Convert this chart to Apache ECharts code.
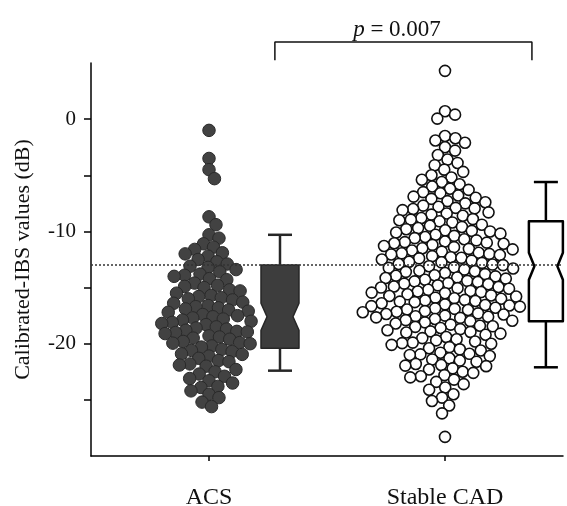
<!DOCTYPE html>
<html>
<head>
<meta charset="utf-8">
<script src="https://cdn.jsdelivr.net/npm/echarts@6/dist/echarts.min.js"></script>
<style>
  html, body { margin: 0; padding: 0; background: #fff; }
  #chart { width: 567px; height: 506px; }
</style>
</head>
<body>
<div id="chart"></div>
<script>
// groups and where they sit on the (hidden) value x axis
const categories = ['ACS', 'Stable CAD'];
const categoryX = [0.6, 1.8];
const boxX = [0.961, 2.313];

// calibrated-IBS values (dB)
const acsValues = [
  -1.0, -3.5, -4.5, -5.3, -8.7, -9.4, -10.3, -10.6,
  -11.1, -11.4, -11.6, -11.9,
  -12.0, -12.2, -12.5, -12.7, -12.9,
  -13.1, -13.2, -13.4, -13.6, -13.8, -13.9,
  -14.0, -14.2, -14.3, -14.6, -14.8, -14.9,
  -15.0, -15.2, -15.3, -15.5, -15.7, -15.8, -15.9,
  -16.0, -16.1, -16.3, -16.4, -16.6, -16.7, -16.8, -16.9,
  -17.0, -17.1, -17.2, -17.4, -17.5, -17.6, -17.7, -17.8, -17.9,
  -18.0, -18.1, -18.2, -18.3, -18.5, -18.6, -18.7, -18.8, -18.9, -18.95,
  -19.0, -19.1, -19.3, -19.4, -19.5, -19.6, -19.8, -19.9, -19.95,
  -20.0, -20.2, -20.3, -20.5, -20.6, -20.7, -20.9, -20.95,
  -21.1, -21.3, -21.5, -21.6, -21.8, -21.9,
  -22.0, -22.3, -22.5, -22.7, -22.9,
  -23.1, -23.3, -23.5, -23.8, -23.9,
  -24.2, -24.5, -24.8,
  -25.2, -25.6
];
const cadValues = [
  4.3, 0.7, 0.4, 0.05, -1.5, -1.7, -1.9, -2.1, -2.5, -2.8, -3.2, -3.6, -3.9, -4.1, -4.5, -4.7,
  -5.0, -5.2, -5.4, -5.6, -5.8,
  -6.0, -6.2, -6.3, -6.5, -6.6, -6.8, -6.9,
  -7.0, -7.1, -7.3, -7.4, -7.5, -7.7, -7.8, -7.9, -7.95,
  -8.0, -8.1, -8.3, -8.4, -8.5, -8.6, -8.8, -8.9, -8.95,
  -9.0, -9.1, -9.2, -9.4, -9.5, -9.6, -9.7, -9.8, -9.9, -9.95,
  -10.0, -10.1, -10.2, -10.3, -10.4, -10.5, -10.6, -10.7, -10.8, -10.9, -10.95,
  -11.0, -11.05, -11.1, -11.2, -11.3, -11.4, -11.5, -11.55, -11.6, -11.7, -11.8, -11.9, -11.95,
  -12.0, -12.05, -12.1, -12.2, -12.3, -12.35, -12.4, -12.5, -12.6, -12.7, -12.75, -12.8, -12.9, -12.95,
  -13.0, -13.1, -13.2, -13.25, -13.3, -13.4, -13.5, -13.55, -13.6, -13.7, -13.8, -13.9, -13.95,
  -14.0, -14.1, -14.15, -14.2, -14.3, -14.4, -14.45, -14.5, -14.6, -14.65, -14.7, -14.8, -14.9, -14.95,
  -15.0, -15.05, -15.1, -15.2, -15.3, -15.35, -15.4, -15.45, -15.5, -15.6, -15.7, -15.75, -15.8, -15.9, -15.95,
  -16.0, -16.1, -16.15, -16.2, -16.25, -16.3, -16.4, -16.5, -16.55, -16.6, -16.65, -16.7, -16.8, -16.85, -16.9, -16.95,
  -17.0, -17.1, -17.15, -17.2, -17.3, -17.35, -17.4, -17.5, -17.55, -17.6, -17.65, -17.7, -17.8, -17.9, -17.95,
  -18.0, -18.1, -18.2, -18.3, -18.4, -18.45, -18.5, -18.6, -18.7, -18.8, -18.9, -18.95,
  -19.0, -19.1, -19.2, -19.4, -19.5, -19.6, -19.7, -19.8, -19.9, -19.95,
  -20.0, -20.1, -20.3, -20.4, -20.5, -20.6, -20.8, -20.9, -20.95,
  -21.0, -21.1, -21.3, -21.4, -21.5, -21.6, -21.8, -21.9, -21.95,
  -22.0, -22.2, -22.3, -22.5, -22.6, -22.8, -22.9,
  -23.0, -23.2, -23.4, -23.6, -23.9,
  -24.1, -24.5, -24.8,
  -25.1, -25.5, -26.2,
  -28.3
];

// notched box plots: whisker ends, quartiles, median, notch half-height
const boxMin = [-22.4, -22.1];
const boxQ1 = [-20.4, -18.0];
const boxMedian = [-17.6, -13.1];
const boxQ3 = [-13.0, -9.1];
const boxMax = [-10.3, -5.6];
const notchHalf = [1.2, 1.2];

const refLine = -13.0;
const yTicks = [0, -5, -10, -15, -20, -25];
const yTickLabels = [0, -10, -20];
const pValue = '0.007';

const FONT = 'Liberation Serif';
const GRID = { left: 91, right: 4, top: 63, bottom: 50, outerBoundsMode: 'none' };
const X_MIN = 0, X_MAX = 2.4, Y_MIN = -30, Y_MAX = 5;
const pxPerX = (567 - GRID.left - GRID.right) / (X_MAX - X_MIN);
const pxPerY = (506 - GRID.top - GRID.bottom) / (Y_MAX - Y_MIN);

// simple beeswarm: each dot goes as close to the centre as it can without overlapping
function swarm(values, dist) {
  const order = values.map((v, i) => i).sort((a, b) => values[b] - values[a]);
  const placed = [];
  const xs = [];
  order.forEach(i => {
    const y = values[i] * pxPerY;
    const near = placed.filter(p => Math.abs(p.y - y) < dist);
    const cands = [0];
    near.forEach(p => {
      const dx = Math.sqrt(dist * dist - (p.y - y) * (p.y - y));
      cands.push(p.x + dx + 0.01, p.x - dx - 0.01);
    });
    cands.sort((a, b) => Math.abs(a) - Math.abs(b));
    const x = cands.find(c => near.every(p => (p.x - c) ** 2 + (p.y - y) ** 2 >= dist * dist - 0.05));
    placed.push({ x, y });
    xs[i] = x;
  });
  return xs;
}

const acsX = swarm(acsValues, 10.5);
const cadX = swarm(cadValues, 10.6);
const acsData = acsValues.map((v, i) => [categoryX[0] + acsX[i] / pxPerX, v]);
const cadData = cadValues.map((v, i) => [categoryX[1] + cadX[i] / pxPerX, v]);

const boxData = categories.map((c, i) => [boxX[i], boxMin[i], boxQ1[i], boxMedian[i], boxQ3[i], boxMax[i], notchHalf[i]]);
const boxStyle = [
  { fill: '#3d3d3d', stroke: '#262626', lineWidth: 1.5, half: 19, indent: 6, cap: 12, whisker: 2.5 },
  { fill: '#ffffff', stroke: '#000000', lineWidth: 2.5, half: 17, indent: 5.5, cap: 12, whisker: 2.5 }
];

function renderBox(params, api) {
  const s = boxStyle[params.dataIndex];
  const x = api.value(0);
  const cx = api.coord([x, 0])[0];
  const py = v => api.coord([x, v])[1];
  const yMin = py(api.value(1)), yQ1 = py(api.value(2)), yMed = py(api.value(3));
  const yQ3 = py(api.value(4)), yMax = py(api.value(5));
  const nh = api.value(6);
  const yNTop = py(api.value(3) + nh), yNBot = py(api.value(3) - nh);
  const L = cx - s.half, R = cx + s.half;
  const wStyle = { stroke: s.stroke, lineWidth: s.whisker };
  return {
    type: 'group',
    children: [
      { type: 'line', shape: { x1: cx, y1: yQ3, x2: cx, y2: yMax }, style: wStyle },
      { type: 'line', shape: { x1: cx - s.cap, y1: yMax, x2: cx + s.cap, y2: yMax }, style: wStyle },
      { type: 'line', shape: { x1: cx, y1: yQ1, x2: cx, y2: yMin }, style: wStyle },
      { type: 'line', shape: { x1: cx - s.cap, y1: yMin, x2: cx + s.cap, y2: yMin }, style: wStyle },
      {
        type: 'polygon',
        shape: {
          points: [
            [L, yQ3], [R, yQ3], [R, yNTop], [R - s.indent, yMed], [R, yNBot], [R, yQ1],
            [L, yQ1], [L, yNBot], [L + s.indent, yMed], [L, yNTop]
          ]
        },
        style: { fill: s.fill, stroke: s.stroke, lineWidth: s.lineWidth, lineJoin: 'round' }
      }
    ]
  };
}

const myChart = echarts.init(document.getElementById('chart'));

const option = {
  animation: false,
  backgroundColor: '#fff',
  grid: GRID,
  xAxis: {
    type: 'value',
    min: X_MIN,
    max: X_MAX,
    splitLine: { show: false },
    axisLine: { show: true, onZero: false, lineStyle: { color: '#000', width: 1.5 } },
    axisTick: { show: true, customValues: categoryX, length: 5, lineStyle: { color: '#000', width: 1.5 } },
    axisLabel: {
      show: true,
      customValues: categoryX,
      margin: 30,
      fontFamily: FONT,
      fontSize: 24,
      color: '#111',
      formatter: v => {
        const i = categoryX.findIndex(c => Math.abs(c - v) < 1e-6);
        return i >= 0 ? categories[i] : '';
      }
    }
  },
  yAxis: {
    type: 'value',
    min: Y_MIN,
    max: Y_MAX,
    name: 'Calibrated-IBS values (dB)',
    nameLocation: 'middle',
    nameGap: 57,
    nameTextStyle: { fontFamily: FONT, fontSize: 22, color: '#111' },
    splitLine: { show: false },
    axisLine: { show: true, onZero: false, lineStyle: { color: '#000', width: 1.5 } },
    axisTick: { show: true, customValues: yTicks, length: 7, lineStyle: { color: '#000', width: 1.5 } },
    axisLabel: {
      show: true,
      customValues: yTickLabels,
      margin: 15,
      fontFamily: FONT,
      fontSize: 21,
      color: '#111'
    }
  },
  series: [
    {
      type: 'custom',
      z: 1,
      renderItem: renderBox,
      data: boxData,
      silent: true
    },
    {
      type: 'line',
      z: 2,
      data: [],
      markLine: {
        silent: true,
        symbol: 'none',
        label: { show: false },
        lineStyle: { type: [2, 2], color: '#333', width: 1.5 },
        data: [{ yAxis: refLine }]
      }
    },
    {
      type: 'line',
      z: 2,
      clip: false,
      symbol: 'none',
      silent: true,
      lineStyle: { color: '#111', width: 1.5 },
      data: [[0.935, 5.25], [0.935, 6.86], [2.242, 6.86], [2.242, 5.25]]
    },
    {
      name: categories[0],
      type: 'scatter',
      z: 3,
      symbolSize: 12.5,
      data: acsData,
      itemStyle: { color: '#424242', borderColor: '#2a2a2a', borderWidth: 1, opacity: 1 }
    },
    {
      name: categories[1],
      type: 'scatter',
      z: 3,
      clip: false,
      symbolSize: 11,
      data: cadData,
      itemStyle: { color: '#ffffff', borderColor: '#111', borderWidth: 1.6, opacity: 1 }
    }
  ]
};

myChart.setOption(option);

// p-value label above the bracket
const pPos = myChart.convertToPixel({ gridIndex: 0 }, [1.556, 7.95]);
myChart.setOption({
  graphic: [{
    type: 'text',
    x: pPos[0],
    y: pPos[1],
    style: {
      text: '{i|p} = ' + pValue,
      align: 'center',
      verticalAlign: 'middle',
      fontFamily: FONT,
      fontSize: 23,
      fill: '#111',
      rich: { i: { fontFamily: FONT, fontStyle: 'italic', fontSize: 23 } }
    }
  }]
});
</script>
</body>
</html>
